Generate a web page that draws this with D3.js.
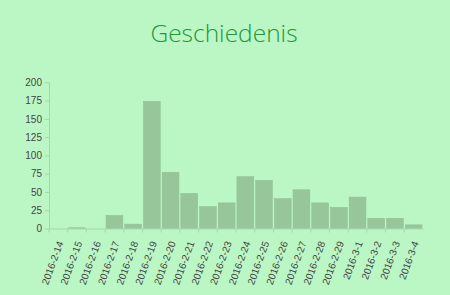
<!DOCTYPE html>
<html><head><meta charset="utf-8">
<script src="https://cdn.jsdelivr.net/npm/d3@7"></script>
<style>
html,body{margin:0;padding:0;background:#bbf7c5;}
svg{display:block;}
</style></head>
<body>
<svg id="c" width="450" height="295"></svg>
<script>
const categories = ["2016-2-14","2016-2-15","2016-2-16","2016-2-17","2016-2-18","2016-2-19","2016-2-20","2016-2-21","2016-2-22","2016-2-23","2016-2-24","2016-2-25","2016-2-26","2016-2-27","2016-2-28","2016-2-29","2016-3-1","2016-3-2","2016-3-3","2016-3-4"];
const values = [0,1,0,18,6,174,77,48,30,35,71,66,41,53,35,29,43,14,14,5];
const yTicks = [0,25,50,75,100,125,150,175,200];
const title = "Geschiedenis";

const svg = d3.select("#c");
const x = d3.scaleBand().domain(categories).range([49, 423]).paddingInner(0.1).paddingOuter(0.05);
const y = d3.scaleLinear().domain([0, 200]).range([228.5, 82.3]);

svg.append("text").attr("x", 224).attr("y", 41.7).attr("text-anchor", "middle")
  .attr("font-family", "Open Sans").attr("font-weight", 300).attr("font-size", 24.5)
  .attr("fill", "#25953a").text(title);

const yAxis = svg.append("g").attr("transform", "translate(49,0)")
  .call(d3.axisLeft(y).tickValues(yTicks).tickSize(4).tickSizeOuter(0));
yAxis.select(".domain").attr("stroke", "#a9d4ad");
yAxis.selectAll(".tick line").attr("stroke", "#a9d4ad");
yAxis.selectAll("text").attr("font-family", "Liberation Sans, Arial").attr("font-size", 10).attr("fill", "#444").attr("x", -7);

svg.append("g").selectAll("rect").data(values).join("rect")
  .attr("x", (d, i) => x(categories[i]))
  .attr("width", x.bandwidth())
  .attr("y", d => y(d))
  .attr("height", d => y(0) - y(d))
  .attr("fill", "#98c69b")
  .attr("stroke", "#8fbf93").attr("stroke-width", 0.5);

const step = x.step();
const xAxis = svg.append("g").attr("transform", `translate(0,${y(0)})`)
  .call(d3.axisBottom(x).tickSize(4).tickSizeOuter(0));
xAxis.select(".domain").attr("stroke", "#a9d4ad");
xAxis.selectAll(".tick line").attr("stroke", "#a9d4ad").attr("x1", -step / 2).attr("x2", -step / 2);
xAxis.selectAll("text").attr("font-family", "Liberation Sans, Arial").attr("font-size", 10).attr("fill", "#444")
  .attr("text-anchor", "end").attr("dy", "0.35em")
  .attr("transform", "translate(2,13) rotate(-70)").attr("x", 0).attr("y", 0);
</script>
</body></html>
